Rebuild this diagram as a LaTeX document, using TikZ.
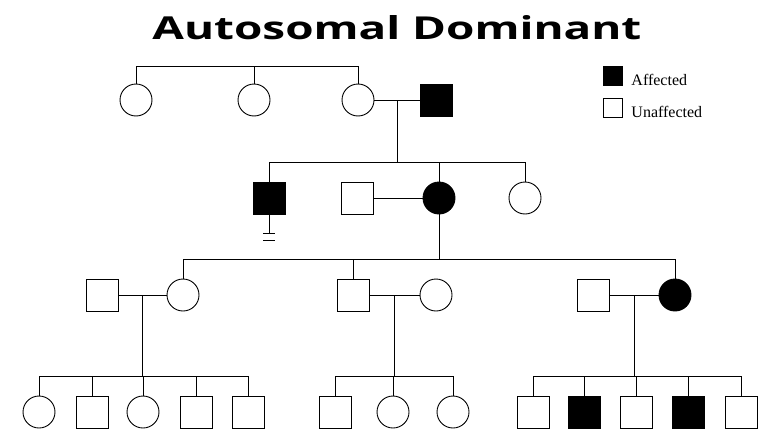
\documentclass[tikz,border=0pt]{standalone}
\usepackage{fontspec}
\setmainfont{Liberation Serif}
\newfontfamily\titlefont{Open Sans}
\usetikzlibrary{calc}
\begin{document}
\begin{tikzpicture}[x=1pt,y=-1pt,line width=0.9pt,
  male/.style={draw,rectangle,minimum size=32pt,inner sep=0pt},
  female/.style={draw,circle,minimum size=32pt,inner sep=0pt},
  aff/.style={fill=black},
  key/.style={draw,rectangle,minimum size=19pt,inner sep=0pt,line width=0.8pt},
  keytext/.style={anchor=base west,inner sep=0pt,font=\fontsize{16}{18}\selectfont}]
\useasboundingbox (0,0) rectangle (763,431);

% title
\node[anchor=base west,inner sep=0pt] (title) at (152,39)
  {\resizebox{489pt}{24pt}{\titlefont\bfseries Autosomal Dominant}};

% legend
\node[key,aff] (kaff) at (613,76) {};
\node[keytext] (taff) at (631,85) {Affected};
\node[key] (kun) at (613,108) {};
\node[keytext] (tun) at (631,117) {Unaffected};

% generation I
\node[female] (a1) at (136,100) {};
\node[female] (a2) at (254,100) {};
\node[female] (a3) at (358,100) {};
\node[male,aff] (a4) at (436,100) {};
\coordinate (s1) at (0,66);
\draw (a1.north) -- (a1.north |- s1) -- (a3.north |- s1) -- (a3.north);
\draw (a2.north) -- (a2.north |- s1);
\draw (a3.east) -- (a4.west);
\coordinate (m1) at ($(a3.east)!0.5!(a4.west)$);

% generation II
\node[male,aff] (b1) at (269,198) {};
\node[male] (b2) at (357,198) {};
\node[female,aff] (b3) at (439,198) {};
\node[female] (b4) at (525,198) {};
\coordinate (s2) at (0,162);
\draw (m1) -- (m1 |- s2);
\draw (b1.north) -- (b1.north |- s2) -- (b4.north |- s2) -- (b4.north);
\draw (b3.north) -- (b3.north |- s2);
\draw (b2.east) -- (b3.west);
% no offspring mark
\coordinate (nb) at ($(b1.south)+(0,19)$);
\draw (b1.south) -- (nb);
\draw ($(nb)+(-6,0)$) -- ($(nb)+(6,0)$);
\draw ($(nb)+(-6,7)$) -- ($(nb)+(6,7)$);

% generation III
\node[male] (c1) at (102,295) {};
\node[female] (c2) at (183,295) {};
\node[male] (c3) at (353,295) {};
\node[female] (c4) at (436,295) {};
\node[male] (c5) at (593,295) {};
\node[female,aff] (c6) at (675,295) {};
\coordinate (s3) at (0,259);
\draw (b3.south) -- (b3.south |- s3);
\draw (c2.north) -- (c2.north |- s3) -- (c6.north |- s3) -- (c6.north);
\draw (c3.north) -- (c3.north |- s3);
\draw (c1.east) -- (c2.west);
\draw (c3.east) -- (c4.west);
\draw (c5.east) -- (c6.west);
\coordinate (m2) at ($(c1.east)!0.5!(c2.west)$);
\coordinate (m3) at ($(c3.east)!0.5!(c4.west)$);
\coordinate (m4) at ($(c5.east)!0.5!(c6.west)$);

% generation IV
\coordinate (s4) at (0,376);
\node[female] (d1) at (39,412) {};
\node[male] (d2) at (92,412) {};
\node[female] (d3) at (143,412) {};
\node[male] (d4) at (196,412) {};
\node[male] (d5) at (248,412) {};
\node[male] (e1) at (335,412) {};
\node[female] (e2) at (393,412) {};
\node[female] (e3) at (453,412) {};
\node[male] (f1) at (533,412) {};
\node[male,aff] (f2) at (584,412) {};
\node[male] (f3) at (636,412) {};
\node[male,aff] (f4) at (688,412) {};
\node[male] (f5) at (741,412) {};

\draw (m2) -- (m2 |- s4);
\draw (m3) -- (m3 |- s4);
\draw (m4) -- (m4 |- s4);
\draw (d1.north) -- (d1.north |- s4) -- (d5.north |- s4) -- (d5.north);
\draw (e1.north) -- (e1.north |- s4) -- (e3.north |- s4) -- (e3.north);
\draw (f1.north) -- (f1.north |- s4) -- (f5.north |- s4) -- (f5.north);
\foreach \n in {d2,d3,d4,e2,f2,f3,f4}
  \draw (\n.north) -- (\n.north |- s4);
\end{tikzpicture}
\end{document}
